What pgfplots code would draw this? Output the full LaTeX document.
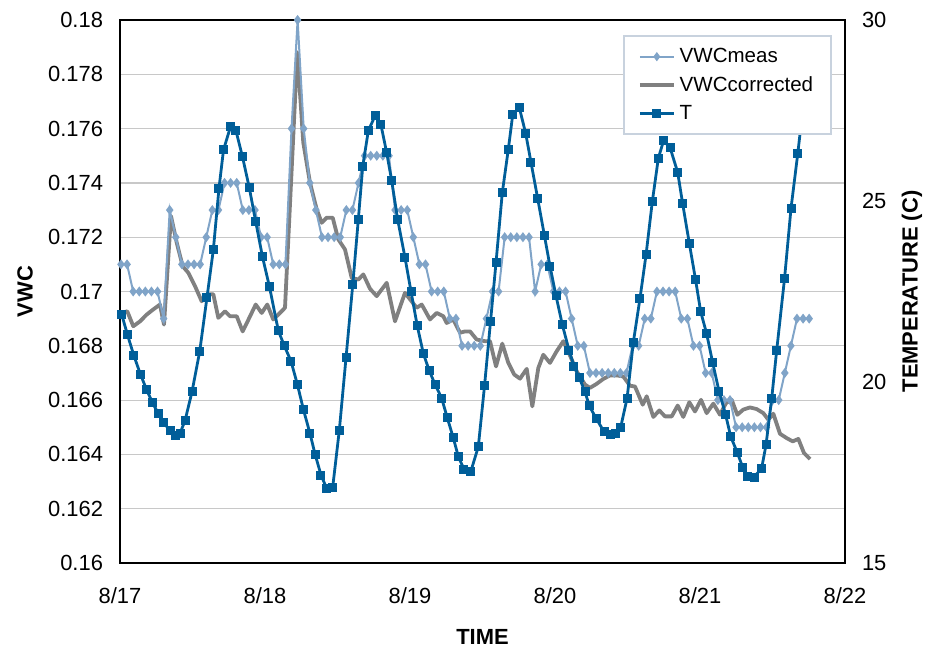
\documentclass[border=0pt]{standalone}
\usepackage{pgfplots}
\pgfplotsset{compat=1.18}
\usepackage{fontspec}
\setmainfont{Liberation Sans}
\definecolor{vwcmeas}{RGB}{128,164,200}
\definecolor{vwccorr}{RGB}{128,128,128}
\definecolor{tblue}{RGB}{0,94,153}
\definecolor{legborder}{RGB}{200,210,222}
\definecolor{gridgray}{RGB}{200,200,200}

% x is the sample number (hourly readings); day ticks sit at their measured positions
\pgfplotstableread{
i v
0 0.171
1 0.171
2 0.170
3 0.170
4 0.170
5 0.170
6 0.170
7 0.169
8 0.173
9 0.172
10 0.171
11 0.171
12 0.171
13 0.171
14 0.172
15 0.173
16 0.173
17 0.174
18 0.174
19 0.174
20 0.173
21 0.173
22 0.173
23 0.172
24 0.172
25 0.171
26 0.171
27 0.171
28 0.176
29 0.180
30 0.176
31 0.174
32 0.173
33 0.172
34 0.172
35 0.172
36 0.172
37 0.173
38 0.173
39 0.174
40 0.175
41 0.175
42 0.175
43 0.175
44 0.175
45 0.173
46 0.173
47 0.173
48 0.172
49 0.171
50 0.171
51 0.170
52 0.170
53 0.170
54 0.169
55 0.169
56 0.168
57 0.168
58 0.168
59 0.168
60 0.169
61 0.170
62 0.170
63 0.172
64 0.172
65 0.172
66 0.172
67 0.172
68 0.170
69 0.171
70 0.171
71 0.170
72 0.170
73 0.170
74 0.169
75 0.168
76 0.168
77 0.167
78 0.167
79 0.167
80 0.167
81 0.167
82 0.167
83 0.167
84 0.168
85 0.168
86 0.169
87 0.169
88 0.170
89 0.170
90 0.170
91 0.170
92 0.169
93 0.169
94 0.168
95 0.168
96 0.167
97 0.167
98 0.166
99 0.166
100 0.166
101 0.165
102 0.165
103 0.165
104 0.165
105 0.165
106 0.165
107 0.166
108 0.166
109 0.167
110 0.168
111 0.169
112 0.169
113 0.169
}\meas

\pgfplotstableread{
i v
0.10 0.16921
1.03 0.16927
2.02 0.16872
3.12 0.16890
4.22 0.16915
5.30 0.16934
6.40 0.16952
7.06 0.16878
8.21 0.17278
9.15 0.17180
10.13 0.17093
11.05 0.17069
12.15 0.17020
13.25 0.16964
14.07 0.16989
15.16 0.16990
15.98 0.16903
17.08 0.16927
17.90 0.16909
19.00 0.16909
19.98 0.16853
21.07 0.16903
22.12 0.16952
23.10 0.16921
24.02 0.16952
25.00 0.16897
26.10 0.16921
26.93 0.16940
28.95 0.17881
29.93 0.17549
31.03 0.17401
32.13 0.17303
32.96 0.17253
33.78 0.17272
34.76 0.17272
35.68 0.17192
36.78 0.17155
37.88 0.17050
38.97 0.17044
39.79 0.17063
40.89 0.17010
41.99 0.16983
43.63 0.17032
44.99 0.16890
46.63 0.16995
48.55 0.16940
49.38 0.16952
50.74 0.16897
51.84 0.16921
52.92 0.16909
53.48 0.16884
54.56 0.16897
55.67 0.16848
56.49 0.16853
57.31 0.16853
58.41 0.16823
59.77 0.16817
60.59 0.16817
61.58 0.16724
62.61 0.16808
63.60 0.16737
64.58 0.16694
65.52 0.16679
66.62 0.16715
67.54 0.16577
68.52 0.16718
69.34 0.16767
70.44 0.16737
71.54 0.16780
72.63 0.16817
73.73 0.16764
74.83 0.16706
76.19 0.16657
77.01 0.16645
78.11 0.16660
79.20 0.16678
80.30 0.16691
81.40 0.16691
82.48 0.16687
83.58 0.16653
84.40 0.16650
85.67 0.16583
86.32 0.16614
87.41 0.16538
88.39 0.16562
89.33 0.16540
90.43 0.16540
91.41 0.16580
92.33 0.16538
93.32 0.16592
94.25 0.16558
95.24 0.16601
96.17 0.16552
97.26 0.16587
98.36 0.16546
99.34 0.16589
100.28 0.16601
101.20 0.16546
102.18 0.16565
103.28 0.16573
104.38 0.16567
105.47 0.16552
106.29 0.16528
107.11 0.16550
108.21 0.16476
109.31 0.16460
110.30 0.16448
111.22 0.16457
112.15 0.16405
113.14 0.16383
}\corr

\pgfplotstableread{
i t
0.11 21.87
1.07 21.30
2.13 20.72
3.20 20.21
4.22 19.78
5.17 19.43
6.08 19.14
7.01 18.88
8.05 18.65
8.98 18.52
9.69 18.58
10.51 18.93
11.66 19.73
12.92 20.84
14.12 22.34
15.16 23.65
16.09 25.35
16.83 26.41
18.01 27.07
18.88 26.94
19.95 26.22
21.05 25.38
22.12 24.43
23.23 23.46
24.38 22.63
25.83 21.42
26.81 21.00
27.91 20.58
28.95 19.94
29.97 19.23
31.03 18.58
31.86 18.01
32.84 17.43
33.78 17.06
34.76 17.09
35.85 18.67
36.95 20.67
38.05 22.68
38.97 24.49
39.69 25.95
40.61 26.94
41.71 27.35
42.69 27.10
43.63 26.33
44.45 25.56
45.43 24.49
46.63 23.44
47.62 22.50
48.65 21.55
49.64 20.79
50.62 20.31
51.56 19.94
52.66 19.55
53.58 19.01
54.56 18.46
55.39 17.94
56.32 17.59
57.42 17.52
58.67 18.21
59.69 19.89
60.67 21.66
61.58 23.30
62.61 25.23
63.60 26.43
64.32 27.38
65.40 27.58
66.45 26.87
67.32 26.07
68.42 25.07
69.51 24.06
70.44 23.20
71.43 22.38
72.46 21.59
73.56 20.88
74.38 20.44
75.25 20.12
76.19 19.73
76.90 19.34
78.00 19.00
79.31 18.63
80.30 18.54
81.23 18.58
82.05 18.75
83.10 19.55
84.12 21.09
85.22 22.31
86.21 23.51
87.24 24.98
88.23 26.18
89.08 26.66
90.15 26.48
91.41 25.79
92.23 24.92
93.32 23.83
94.33 22.84
95.19 21.94
96.17 21.33
97.16 20.53
98.19 19.75
99.29 19.09
100.12 18.49
101.20 18.05
102.09 17.64
102.84 17.38
103.94 17.37
105.20 17.62
105.91 18.26
106.85 19.55
107.67 20.88
108.95 22.85
110.02 24.80
111.12 26.30
112.07 27.70
113.05 28.60
}\temp

\begin{document}
\begin{tikzpicture}
\pgfplotsset{
  every axis/.append style={
    scale only axis, width=362.5bp, height=271.5bp,
    xmin=-0.164, xmax=118.883,
    major tick length=0,
    axis line style={line width=1.1bp},
    tick label style={font=\fontsize{11}{13}\selectfont},
    label style={font=\bfseries\fontsize{11}{13}\selectfont},
  }
}
\begin{axis}[
  ymin=0.16, ymax=0.18,
  ytick={0.16,0.162,0.164,0.166,0.168,0.17,0.172,0.174,0.176,0.178,0.18},
  yticklabels={0.16,0.162,0.164,0.166,0.168,0.17,0.172,0.174,0.176,0.178,0.18},
  xtick={-0.164,23.645,47.455,71.264,95.074,118.883},
  xticklabels={8/17,8/18,8/19,8/20,8/21,8/22},
  ymajorgrids, grid style={gridgray, line width=0.6bp},
  xticklabel style={yshift=-9bp},
  yticklabel style={xshift=-5bp},
  xlabel={TIME}, ylabel={VWC},
  xlabel style={at={(axis description cs:0.5,-0.136)}, anchor=center},
  ylabel style={at={(axis description cs:-0.131,0.5)}, anchor=center},
]
\addplot[color=vwccorr, line width=1.9bp, no markers, line join=round] table[x=i, y=v] {\corr};
\addplot[color=vwcmeas, line width=1bp, mark=diamond*, mark size=1.7bp,
  mark options={fill=vwcmeas, draw=vwcmeas}] table[x=i, y=v] {\meas};
\end{axis}

\begin{axis}[
  ymin=15, ymax=30,
  ytick={15,20,25,30}, yticklabels={15,20,25,30},
  axis y line*=right, axis x line=none,
  yticklabel style={xshift=5bp},
  ylabel={TEMPERATURE (C)},
  ylabel style={at={(axis description cs:1.0924,0.5)}, anchor=center},
  legend style={at={(rel axis cs:0.982,0.972)}, anchor=north east,
    draw=legborder, line width=0.8bp, fill=white,
    font=\fontsize{10.3}{12}\selectfont, inner xsep=7bp, inner ysep=4bp,
    row sep=1.5bp},
  legend cell align=left,
]
\addlegendimage{color=vwcmeas, line width=1bp, mark=diamond*, mark size=1.5bp, mark options={fill=vwcmeas, draw=vwcmeas}}
\addlegendimage{color=vwccorr, line width=1.9bp, no markers}
\addplot[color=tblue, line width=1.4bp, mark=square*, mark size=2bp,
  mark options={fill=tblue, draw=tblue, line width=0.5bp}] table[x=i, y=t] {\temp};
\legend{VWCmeas, VWCcorrected, T}
\end{axis}
\pgfresetboundingbox
\path[use as bounding box] (-60bp,-44.5bp) rectangle (404bp,281.5bp);
\end{tikzpicture}
\end{document}
